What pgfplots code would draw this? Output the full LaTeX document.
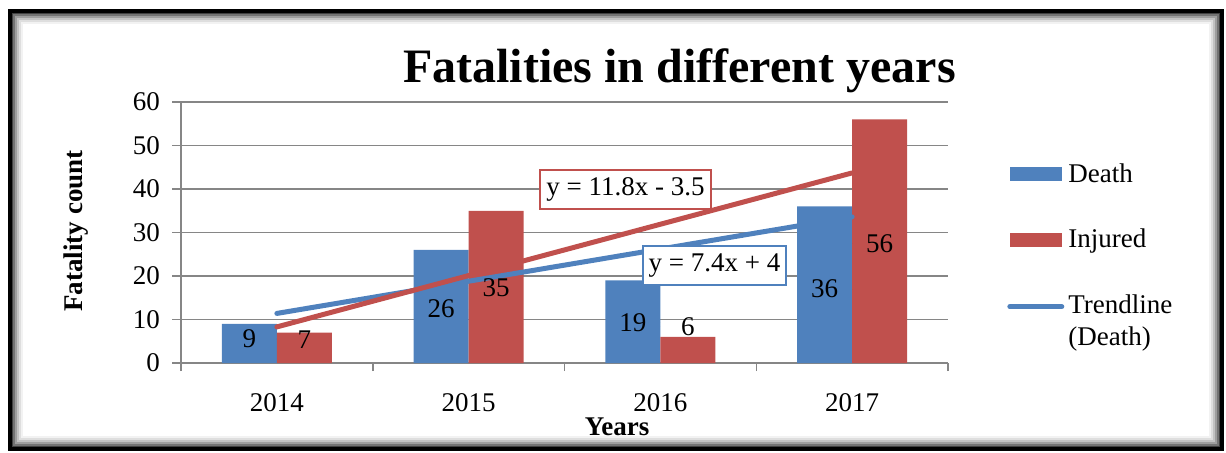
\documentclass[border=0pt]{standalone}
\usepackage{fontspec}
\setmainfont{Liberation Serif}
\usepackage{pgfplots}
\pgfplotsset{compat=1.18}
\definecolor{deathblue}{HTML}{4F81BD}
\definecolor{injred}{HTML}{C0504D}
\definecolor{axgray}{HTML}{868686}
\newcommand{\fs}{\fontsize{13.5}{16}\selectfont}

\begin{document}
\begin{tikzpicture}[x=0.5pt,y=-0.5pt]
\path[use as bounding box] (0,0) rectangle (1226,452);
% frame with soft inner shadow
\foreach \i/\c in {1/black!75,2/black!55,3/black!38,4/black!24,5/black!13,6/black!5}
  \draw[\c, line width=1.1pt] ({10+2*\i},{11+2*\i}) rectangle ({1222-2*\i},{449-2*\i});
\draw[black, line width=2pt] (10,11) rectangle (1222,449);

\begin{axis}[
  at={(90.5pt,-181.5pt)}, anchor=south west,
  scale only axis, width=383.5pt, height=130.5pt,
  xmin=0.5, xmax=4.5, ymin=0, ymax=60,
  ytick={0,10,...,60},
  xtick={1,2,3,4}, xticklabels={2014,2015,2016,2017},
  minor xtick={0.5,1.5,2.5,3.5,4.5},
  axis x line*=bottom, axis y line*=left,
  axis line style={axgray, line width=0.75pt, -},
  ymajorgrids, major grid style={axgray, line width=0.75pt},
  tick align=outside, major tick length=4.5pt, minor tick length=4pt,
  tick style={axgray, line width=0.75pt},
  major x tick style={draw=none},
  ticklabel style={font=\fs},
  xticklabel style={yshift=-7pt},
  yticklabel style={xshift=-2.5pt},
  /pgf/number format/assume math mode=true,
  legend cell align=left,
  legend style={at={(1.069,0.797)}, anchor=north west, draw=none, fill=none,
    font=\fs, row sep=18pt, cells={align=left},
    /tikz/every even column/.append style={column sep=3pt}},
]
\addplot[ybar, bar width=27.5pt, bar shift=-13.75pt, fill=deathblue, draw=none,
  legend image code/.code={\fill[deathblue] (0pt,-3.5pt) rectangle (26pt,3.5pt);}]
  coordinates {(1,9) (2,26) (3,19) (4,36)};
\addlegendentry{Death}
\addplot[ybar, bar width=27.5pt, bar shift=13.75pt, fill=injred, draw=none,
  legend image code/.code={\fill[injred] (0pt,-3.5pt) rectangle (26pt,3.5pt);}]
  coordinates {(1,7) (2,35) (3,6) (4,56)};
\addlegendentry{Injured}
% trendlines
\addplot[deathblue, line width=2.5pt, line cap=round, mark=none,
  legend image code/.code={\draw[deathblue, line width=2.5pt, line cap=round] (0pt,7.5pt) -- (26pt,7.5pt);}]
  coordinates {(1,11.4) (4,33.6)};
\addlegendentry{Trendline\\(Death)}
\addplot[injred, line width=2.5pt, line cap=round, mark=none, forget plot]
  coordinates {(1,8.3) (4,43.7)};
% data labels (x, label centre, text)
\addplot[forget plot, only marks, mark=*, mark size=0pt, mark options={draw=none, fill=none},
  nodes near coords, point meta=explicit symbolic, nodes near coords align={center},
  every node near coord/.append style={xshift=-13.75pt, font=\fs, text=black}]
  table[meta=l] {
x y l
1 5.7 9
2 12.4 26
3 9.2 19
4 17.0 36
};
\addplot[forget plot, only marks, mark=*, mark size=0pt, mark options={draw=none, fill=none},
  nodes near coords, point meta=explicit symbolic, nodes near coords align={center},
  every node near coord/.append style={xshift=13.75pt, font=\fs, text=black}]
  table[meta=l] {
x y l
1 5.3 7
2 17.2 35
3 8.3 6
4 27.4 56
};
\node[draw=injred, line width=1pt, fill=white, font=\fs, inner xsep=3pt, minimum height=19.5pt]
  at (axis cs:2.818,39.9) {y = 11.8x - 3.5};
\node[draw=deathblue, line width=1pt, fill=white, font=\fs, inner xsep=3pt, minimum height=19.5pt]
  at (axis cs:3.282,22.4) {y = 7.4x + 4};
\end{axis}

\node[font=\bfseries\fontsize{24}{28}\selectfont, anchor=base] at (679.5,82) {Fatalities in different years};
\node[font=\bfseries\fs, rotate=90, anchor=center] at (76,231) {Fatality count};
\node[font=\bfseries\fs, anchor=base] at (617,435) {Years};
\end{tikzpicture}
\end{document}
